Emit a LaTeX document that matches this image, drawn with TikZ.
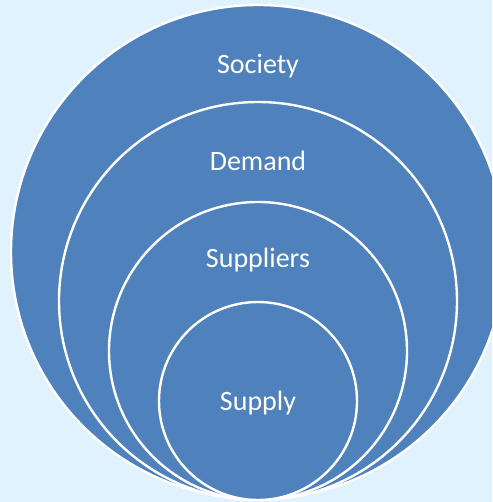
\documentclass[tikz,border=0pt]{standalone}
\usepackage{fontspec}
\setmainfont{Carlito}
\definecolor{ringblue}{RGB}{79,129,189}
\definecolor{paleblue}{RGB}{224,242,254}

\begin{document}
\begin{tikzpicture}[x=1pt, y=-1pt, ring/.style={circle, draw=white, line width=2.4pt, fill=ringblue, inner sep=0pt}, caption/.style={text=white, anchor=base, font=\fontsize{28}{32}\selectfont}]
	\useasboundingbox (0,0) rectangle (492,502);
	\clip (0,0) rectangle (492,502);
	\fill [paleblue] (0,0) rectangle (492,502);

	\node [ring, minimum size=494pt]	(society)	at (258,252)	{};
	\node [ring, minimum size=398pt]	(demand)	at (258,301)	{};
	\node [ring, minimum size=298pt]	(suppliers)	at (258,351)	{};
	\node [ring, minimum size=198pt]	(supply)	at (258,401)	{};

	\node [caption]	(society text)		at (258,74)	{Society};
	\node [caption]	(demand text)		at (258,171)	{Demand};
	\node [caption]	(suppliers text)	at (258,267)	{Suppliers};
	\node [caption]	(supply text)		at (258,410)	{Supply};
\end{tikzpicture}
\end{document}
